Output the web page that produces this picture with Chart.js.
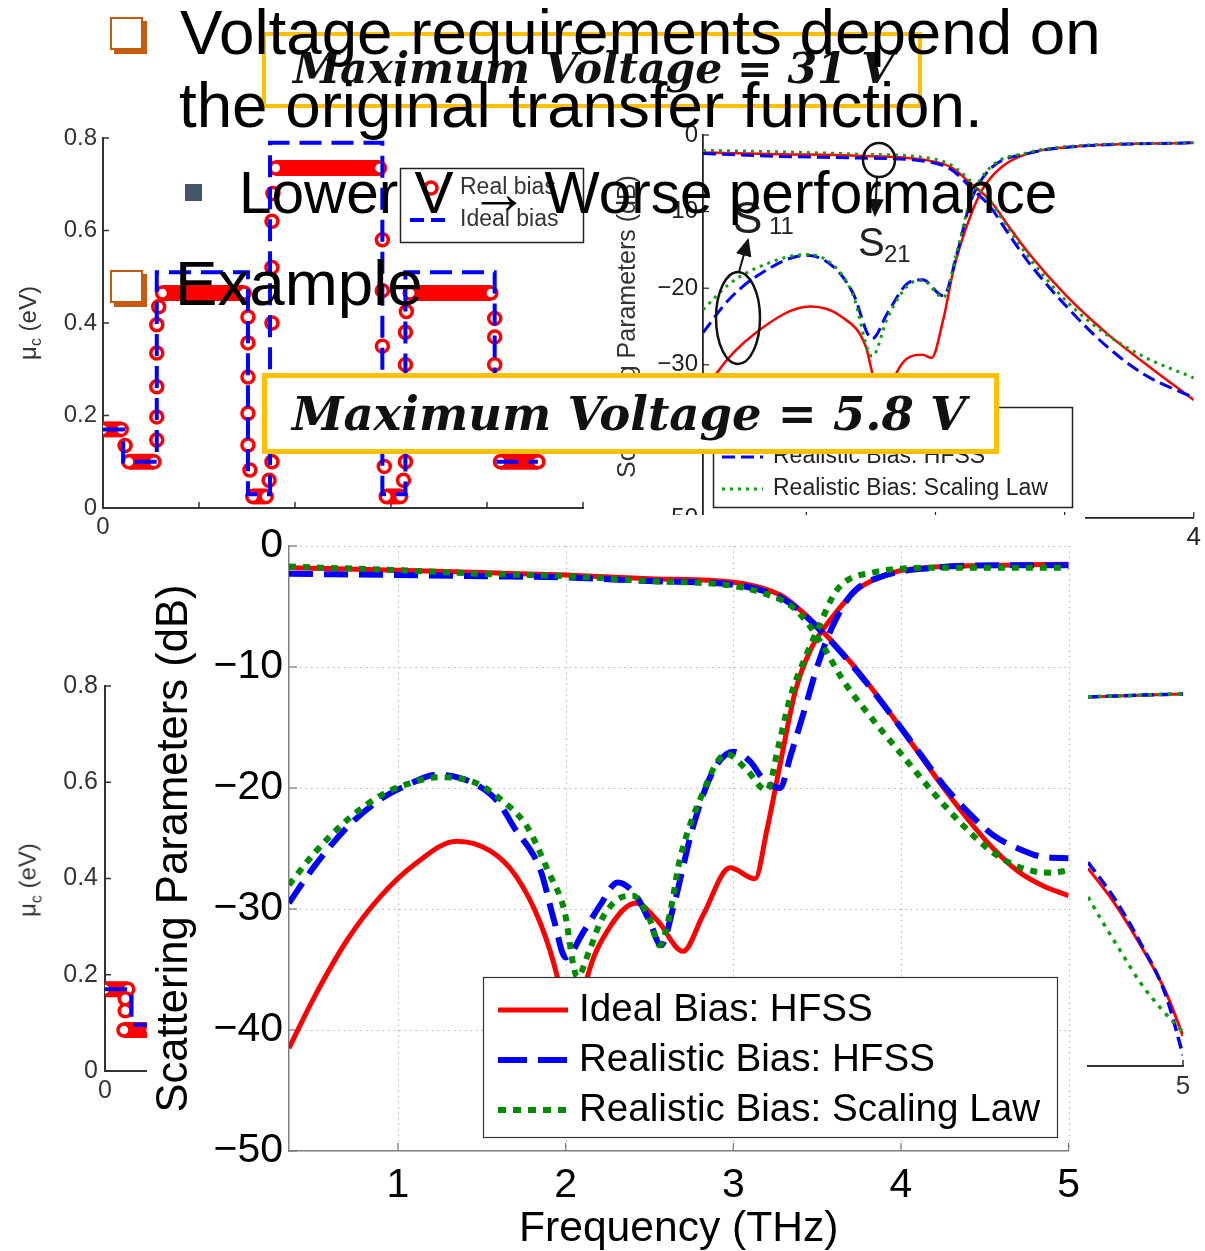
<!DOCTYPE html>
<html>
<head>
<meta charset="utf-8">
<script src="https://cdn.jsdelivr.net/npm/chart.js@4.4.1/dist/chart.umd.min.js"></script>
<style>
  body { margin: 0; width: 1205px; height: 1251px; background: #fff; position: relative; overflow: hidden; font-family: 'Liberation Sans', Arial, sans-serif; }
  canvas { position: absolute; }
  .txt { position: absolute; white-space: nowrap; line-height: 1; color: #000; z-index: 6; }
  .sq { position: absolute; width: 29px; height: 29px; border: 2px solid #c55a11; box-shadow: 4px 4px 0 #c55a11; background: #fff; z-index: 6; }
  .ybox { position: absolute; border: 4px solid #ffc000; background: #fff; box-sizing: border-box; z-index: 3; }
  .ytxt { position: absolute; white-space: nowrap; line-height: 1; z-index: 4; font-family: 'DejaVu Serif', serif; font-weight: bold; font-style: italic; color: #111; }
  .rot { position: absolute; white-space: nowrap; line-height: 1; transform: translate(-50%, -50%) rotate(-90deg); color: #333; z-index: 2; }
</style>
</head>
<body>

<canvas id="leftFrag" width="160" height="480" style="left:0;top:640px;z-index:1"></canvas>
<canvas id="rightFrag" width="120" height="510" style="left:1085px;top:600px;z-index:1"></canvas>
<canvas id="muChart" width="600" height="440" style="left:0;top:110px;z-index:1"></canvas>
<canvas id="origChart" width="615" height="445" style="left:590px;top:110px;z-index:1"></canvas>

<div class="rot" style="left:30px;top:323px;font-size:24px">μ<sub style="font-size:16px">c</sub> (eV)</div>
<div class="rot" style="left:30px;top:880px;font-size:24px">μ<sub style="font-size:16px">c</sub> (eV)</div>

<svg style="position:absolute;left:0;top:0;z-index:2" width="1205" height="560">
  <defs>
    <marker id="ah" markerWidth="10" markerHeight="10" refX="8" refY="5" orient="auto">
      <path d="M0,1 L9,5 L0,9 z" fill="#111"></path>
    </marker>
  </defs>
  <ellipse cx="738" cy="318" rx="22" ry="46" fill="none" stroke="#111" stroke-width="2.5"></ellipse>
  <line x1="739" y1="272" x2="748" y2="240" stroke="#111" stroke-width="2" marker-end="url(#ah)"></line>
  <ellipse cx="879" cy="160" rx="16" ry="17" fill="none" stroke="#111" stroke-width="2.5"></ellipse>
  <line x1="877" y1="177" x2="875" y2="215" stroke="#111" stroke-width="2" marker-end="url(#ah)"></line>
</svg>
<div class="txt" style="left:733px;top:196px;font-size:44px;color:#222;z-index:2">S</div>
<div class="txt" style="left:769px;top:214px;font-size:24px;color:#222;z-index:2">11</div>
<div class="txt" style="left:858px;top:222px;font-size:40px;color:#222;z-index:2">S</div>
<div class="txt" style="left:884px;top:242px;font-size:24px;color:#222;z-index:2">21</div>

<div class="ybox" style="left:262px;top:32px;width:660px;height:76px"></div>
<div class="ytxt" style="left:293px;top:47px;font-size:42.5px">Maximum Voltage = 31 V</div>
<div class="ybox" style="left:262px;top:373px;width:737px;height:81px;border-width:5px"></div>
<div class="ytxt" style="left:292px;top:391px;font-size:46.5px">Maximum Voltage = 5.8 V</div>

<canvas id="mainChart" width="943" height="740" style="left:147px;top:515px;z-index:5"></canvas>

<div class="sq" style="left:110px;top:17px"></div>
<div class="sq" style="left:110px;top:270px"></div>
<div style="position:absolute;left:185px;top:184px;width:17px;height:17px;background:#44546a;z-index:6"></div>
<div class="txt" style="left:180px;top:0;font-size:63.7px">Voltage requirements depend on</div>
<div class="txt" style="left:179px;top:73px;font-size:63.7px">the original transfer function.</div>
<div class="txt" style="left:239px;top:164px;font-size:58.5px">Lower V → Worse performance</div>
<div class="txt" style="left:175px;top:251px;font-size:63.7px">Example</div>

<script>
const FONT = "'Liberation Sans', Arial, sans-serif"
const RED = '#ff0000'
const BLUE = '#0000ff'
const GREEN = '#008c00'

// ---- main chart: scattering parameters vs frequency (THz) ----
const mainXTicks = [1, 2, 3, 4, 5]
const mainYTicks = [-50, -40, -30, -20, -10, 0]
const mainLegendLabels = ['Ideal Bias: HFSS', 'Realistic Bias: HFSS', 'Realistic Bias: Scaling Law']

const idealS21F = [0.35, 1.0, 1.5, 2.0, 2.5, 3.0, 3.2, 3.3, 3.4, 3.5, 3.65, 3.8, 3.95, 4.1, 4.25, 4.4, 4.55, 4.7, 4.85, 5.0]
const idealS21Db = [-1.8, -2.0, -2.2, -2.4, -2.7, -3.0, -3.6, -4.2, -5.3, -6.6, -8.8, -11.3, -14.1, -17.0, -19.9, -22.6, -25.0, -26.9, -28.1, -28.9]
const idealS11F = [0.35, 0.5, 0.7, 0.9, 1.1, 1.35, 1.55, 1.7, 1.85, 1.95, 2.04, 2.13, 2.25, 2.42, 2.55, 2.7, 2.82, 2.98, 3.13, 3.2, 3.28, 3.37, 3.46, 3.59, 3.74, 3.95, 4.25, 4.6, 5.0]
const idealS11Db = [-41.5, -37.3, -32.5, -28.9, -26.3, -24.4, -25.2, -27.2, -31.2, -35.6, -42.0, -35.6, -31.8, -29.5, -31.0, -33.5, -30.5, -26.6, -27.5, -23.5, -18.0, -12.0, -8.6, -5.9, -3.6, -2.2, -1.7, -1.6, -1.5]

const realS21F = [0.35, 1.0, 1.5, 2.0, 2.5, 3.0, 3.2, 3.3, 3.4, 3.5, 3.65, 3.8, 3.95, 4.1, 4.25, 4.4, 4.55, 4.7, 4.85, 5.0]
const realS21Db = [-2.3, -2.4, -2.5, -2.6, -2.9, -3.2, -3.8, -4.4, -5.4, -6.7, -8.9, -11.4, -14.1, -16.9, -19.7, -22.0, -23.9, -25.0, -25.7, -25.8]
const realS11F = [0.35, 0.5, 0.7, 0.9, 1.05, 1.23, 1.45, 1.6, 1.69, 1.85, 1.93, 2.0, 2.11, 2.21, 2.31, 2.42, 2.5, 2.57, 2.64, 2.76, 2.88, 3.0, 3.1, 3.18, 3.28, 3.34, 3.43, 3.5, 3.59, 3.71, 3.89, 4.2, 4.6, 5.0]
const realS11Db = [-29.5, -26.5, -23.2, -20.9, -19.8, -18.9, -19.6, -21.2, -23.2, -26.8, -30.9, -34.0, -31.8, -29.6, -27.8, -28.9, -31.0, -33.0, -30.0, -23.2, -18.6, -17.0, -17.8, -19.3, -20.0, -17.4, -13.3, -10.0, -6.7, -3.9, -2.5, -1.8, -1.6, -1.6]

const lawS21F = [0.35, 1.0, 1.5, 2.0, 2.5, 3.0, 3.2, 3.35, 3.45, 3.55, 3.65, 3.8, 3.9, 4.05, 4.2, 4.35, 4.5, 4.65, 4.8, 4.9, 5.0]
const lawS21Db = [-1.7, -2.0, -2.3, -2.5, -2.9, -3.3, -4.0, -5.0, -6.5, -8.6, -11.0, -13.8, -15.5, -18.0, -20.5, -22.8, -24.8, -26.2, -26.9, -27.0, -26.8]
const lawS11F = [0.35, 0.5, 0.7, 0.9, 1.05, 1.25, 1.45, 1.6, 1.77, 1.9, 1.99, 2.07, 2.14, 2.21, 2.3, 2.4, 2.5, 2.56, 2.62, 2.68, 2.8, 2.96, 3.08, 3.2, 3.27, 3.34, 3.42, 3.5, 3.62, 3.83, 4.2, 4.6, 5.0]
const lawS11Db = [-28.0, -25.4, -22.6, -20.6, -19.7, -19.1, -19.5, -20.8, -23.2, -27.0, -30.0, -35.6, -33.5, -31.0, -29.3, -28.9, -30.8, -33.0, -30.5, -26.0, -21.0, -17.2, -18.5, -20.2, -16.5, -12.5, -9.5, -7.0, -3.6, -2.2, -1.8, -1.8, -1.8]

// ---- top right chart: original transfer function ----
const origXTicks = [1, 2, 3, 4]
const origYTicks = [-50, -40, -30, -20, -10, 0]
const origS21F = [0.2, 0.8, 1.4, 1.9, 2.12, 2.27, 2.42, 2.57, 2.72, 3.02, 3.32, 3.62, 4.0]
const origIdealS21Db = [-2.3, -2.5, -2.7, -3.2, -4.2, -6.3, -8.5, -12.0, -15.4, -21.1, -25.8, -29.8, -34.6]
const origRealS21Db = [-2.4, -2.8, -3.0, -3.4, -4.5, -6.8, -9.3, -13.0, -16.6, -22.5, -27.5, -31.3, -34.3]
const origLawS21Db = [-2.0, -2.2, -2.5, -2.9, -3.9, -6.0, -8.6, -12.4, -15.9, -21.8, -26.0, -29.0, -31.7]
const origIdealS11F = [0.2, 0.31, 0.61, 1.03, 1.27, 1.46, 1.51, 1.6, 1.7, 1.81, 1.9, 1.97, 2.06, 2.14, 2.24, 2.36, 2.51, 2.72, 3.02, 4.0]
const origIdealS11Db = [-34.5, -31.0, -25.8, -22.4, -23.7, -27.6, -31.0, -36.0, -31.0, -28.9, -28.7, -29.1, -24.1, -17.6, -12.0, -7.2, -4.2, -2.4, -1.6, -1.0]
const origS11F = [0.2, 0.4, 0.61, 1.0, 1.21, 1.36, 1.51, 1.63, 1.79, 1.9, 2.06, 2.17, 2.27, 2.42, 2.72, 3.02, 4.0]
const origRealS11Db = [-25.8, -21.5, -18.5, -15.7, -17.2, -20.6, -26.6, -23.2, -19.3, -18.9, -21.0, -15.3, -8.8, -4.5, -2.4, -1.6, -1.0]
const origLawS11Db = [-22.8, -19.5, -17.4, -15.6, -17.0, -20.8, -28.9, -23.8, -19.6, -19.0, -21.2, -15.0, -8.5, -4.3, -2.3, -1.5, -1.0]

// ---- chemical potential charts ----
const muXTicks = [0, 1, 2, 3, 4, 5]
const muYTicks = [0, 0.2, 0.4, 0.6, 0.8]
const muLegendLabels = ['Real bias', 'Ideal bias']
const idealBiasX = [0, 0.21, 0.21, 0.56, 0.56, 1.51, 1.51, 1.74, 1.74, 2.91, 2.91, 3.15, 3.15, 4.08, 4.08, 4.53]
const idealBiasMu = [0.17, 0.17, 0.10, 0.10, 0.51, 0.51, 0.03, 0.03, 0.79, 0.79, 0.03, 0.03, 0.51, 0.51, 0.10, 0.10]
const realBiasX = [0, 0.19, 0.23, 0.27, 0.53, 0.56, 0.56, 0.56, 0.56, 0.56, 0.58, 0.62, 1.47, 1.51, 1.51, 1.51, 1.51, 1.51, 1.53, 1.56, 1.70, 1.73, 1.76, 1.76, 1.76, 1.76, 1.77, 1.80, 2.88, 2.91, 2.91, 2.91, 2.92, 2.93, 2.95, 3.10, 3.13, 3.15, 3.15, 3.15, 3.16, 3.20, 4.04, 4.08, 4.08, 4.08, 4.10, 4.14, 4.53]
const realBiasMu = [0.17, 0.17, 0.135, 0.10, 0.10, 0.147, 0.197, 0.262, 0.335, 0.396, 0.435, 0.465, 0.465, 0.413, 0.357, 0.283, 0.205, 0.136, 0.082, 0.025, 0.025, 0.06, 0.10, 0.40, 0.52, 0.62, 0.68, 0.735, 0.735, 0.58, 0.47, 0.35, 0.16, 0.09, 0.025, 0.025, 0.06, 0.10, 0.31, 0.38, 0.425, 0.465, 0.465, 0.41, 0.37, 0.31, 0.14, 0.10, 0.10]

const fragMuXTicks = [0]
const fragIdealX = [0, 0.21, 0.21, 0.36]
const fragIdealMu = [0.17, 0.17, 0.096, 0.096]
const fragRealX = [0, 0.18, 0.16, 0.16, 0.15, 0.36]
const fragRealMu = [0.17, 0.17, 0.15, 0.125, 0.085, 0.085]

// ---- right edge fragment of another S-parameter plot ----
const fragSXTicks = [5]
const fragTopF = [4.45, 4.7, 5.0]
const fragTopDb = [-2.2, -2.0, -1.8]
const fragDropF = [4.45, 4.6, 4.75, 4.9, 5.0]
const fragIdealDropDb = [-24.4, -28.8, -34.2, -40.4, -46.1]
const fragRealDropDb = [-23.6, -28.2, -33.9, -40.8, -48.6]
const fragLawDropF = [4.45, 4.52, 4.635, 4.75, 4.87, 5.0]
const fragLawDropDb = [-28.1, -30.8, -35.0, -39.1, -42.5, -45.6]

const pts = (xs, ys) => xs.map((x, i) => ({ x, y: ys[i] }))
const curve = (xs, ys, style) => Object.assign({
  data: pts(xs, ys),
  pointRadius: 0,
  fill: false,
  cubicInterpolationMode: 'monotone',
  borderCapStyle: 'butt'
}, style)
const minus = v => v < 0 ? '\u2212' + Math.abs(v) : String(v)
const oneDec = v => v === 0 ? '0' : v.toFixed(1)

// inner ticks, dotted grid, white background and a boxed legend
const matlabAxes = {
  id: 'matlabAxes',
  beforeDraw (chart, args, o) {
    if (!o.background) return
    const { ctx } = chart
    ctx.save()
    ctx.fillStyle = o.background
    ctx.fillRect(0, 0, o.bgWidth || chart.width, chart.height)
    ctx.restore()
  },
  beforeDatasetsDraw (chart, args, o) {
    if (!o.tickLen) return
    const { ctx, chartArea: a, scales: { x, y } } = chart
    const seg = (x0, y0, x1, y1) => { ctx.beginPath(); ctx.moveTo(x0, y0); ctx.lineTo(x1, y1); ctx.stroke() }
    ctx.save()
    if (o.grid) {
      ctx.strokeStyle = o.grid
      ctx.lineWidth = 1
      ctx.setLineDash([1.5, 4])
      x.ticks.forEach(t => { const p = Math.round(x.getPixelForValue(t.value)) + 0.5; seg(p, a.top, p, a.bottom) })
      y.ticks.forEach(t => { const p = Math.round(y.getPixelForValue(t.value)) + 0.5; seg(a.left, p, a.right, p) })
      ctx.setLineDash([])
    }
    ctx.strokeStyle = o.tickColor
    ctx.lineWidth = o.tickWidth
    x.ticks.forEach(t => { const p = x.getPixelForValue(t.value); seg(p, a.bottom, p, a.bottom - o.tickLen) })
    if (y.options.display) {
      y.ticks.forEach(t => { const p = y.getPixelForValue(t.value); seg(a.left, p, a.left + o.tickLen, p) })
    }
    ctx.restore()
  },
  afterDraw (chart, args, o) {
    const lg = o.legend
    if (!lg) return
    const { ctx } = chart
    ctx.save()
    ctx.fillStyle = '#fff'
    ctx.fillRect(lg.box[0], lg.box[1], lg.box[2], lg.box[3])
    ctx.strokeStyle = lg.border
    ctx.lineWidth = lg.borderWidth
    ctx.strokeRect(lg.box[0] + 0.5, lg.box[1] + 0.5, lg.box[2], lg.box[3])
    ctx.font = lg.font
    ctx.textBaseline = 'middle'
    lg.labels.forEach((label, i) => {
      const ds = chart.data.datasets[lg.datasets[i]]
      const yy = lg.rows[i]
      ctx.strokeStyle = ds.pointBorderColor || ds.borderColor
      if (lg.markers && lg.markers[i]) {
        ctx.lineWidth = ds.pointBorderWidth
        ctx.fillStyle = ds.pointBackgroundColor
        ctx.beginPath()
        ctx.arc(lg.markers[i], yy, ds.pointRadius, 0, Math.PI * 2)
        ctx.fill()
        ctx.stroke()
      } else {
        ctx.lineWidth = ds.borderWidth
        ctx.lineCap = 'butt'
        ctx.setLineDash(lg.dash[i])
        ctx.beginPath()
        ctx.moveTo(lg.sample[0], yy)
        ctx.lineTo(lg.sample[1], yy)
        ctx.stroke()
        ctx.setLineDash([])
      }
      ctx.fillStyle = lg.color
      ctx.fillText(label, lg.textX, yy)
    })
    ctx.restore()
  }
}
Chart.register(matlabAxes)
Chart.defaults.font.family = FONT

const axis = (min, max, tickValues, fit, o) => ({
  type: 'linear',
  min,
  max,
  display: o.display !== false,
  afterBuildTicks: s => { s.ticks = tickValues.map(v => ({ value: v })) },
  afterFit: s => { if (s.isHorizontal()) s.height = fit; else s.width = fit },
  grid: { display: false, drawTicks: false },
  border: { color: o.axisColor, width: o.axisWidth },
  ticks: { font: { size: o.size }, color: o.color, padding: o.pad, autoSkip: false, maxRotation: 0, callback: o.fmt },
  title: o.title || { display: false }
})

const base = {
  responsive: false,
  animation: false,
  devicePixelRatio: 1,
  events: []
}

// main chart
new Chart(document.getElementById('mainChart'), {
  type: 'line',
  data: {
    datasets: [
      curve(idealS21F, idealS21Db, { borderColor: RED, borderWidth: 5, order: 3 }),
      curve(realS21F, realS21Db, { borderColor: BLUE, borderWidth: 6, borderDash: [24, 11], order: 2 }),
      curve(lawS21F, lawS21Db, { borderColor: GREEN, borderWidth: 6, borderDash: [7, 7], order: 1 }),
      curve(idealS11F, idealS11Db, { borderColor: RED, borderWidth: 5, order: 3 }),
      curve(realS11F, realS11Db, { borderColor: BLUE, borderWidth: 6, borderDash: [24, 11], order: 2 }),
      curve(lawS11F, lawS11Db, { borderColor: GREEN, borderWidth: 6, borderDash: [7, 7], order: 1 })
    ]
  },
  options: Object.assign({}, base, {
    layout: { padding: { top: 31, right: 17, left: 0, bottom: 0 } },
    plugins: {
      legend: { display: false },
      tooltip: { enabled: false },
      matlabAxes: {
        background: '#fff',
        bgWidth: 938,
        grid: '#b4b4b4',
        tickLen: 8,
        tickColor: '#777',
        tickWidth: 1.2,
        legend: {
          box: [336, 462, 574, 160],
          rows: [495, 545, 595],
          sample: [351, 421],
          textX: 432,
          font: '38.6px ' + FONT,
          color: '#000',
          border: '#333',
          borderWidth: 1.2,
          labels: mainLegendLabels,
          datasets: [0, 1, 2],
          dash: [[], [29, 11], [8, 7]]
        }
      }
    },
    scales: {
      x: axis(0.35, 5, mainXTicks, 104, {
        axisColor: '#808080', axisWidth: 1.5, size: 41, color: '#000', pad: 10,
        title: { display: true, text: 'Frequency (THz)', color: '#000', font: { size: 42.6 }, padding: { top: 0, bottom: 0 } }
      }),
      y: axis(-50, 0, mainYTicks, 142, {
        axisColor: '#808080', axisWidth: 1.5, size: 41, color: '#000', pad: 6, fmt: minus,
        title: { display: true, text: 'Scattering Parameters (dB)', color: '#000', font: { size: 43.6 }, padding: { top: 2, bottom: 0 } }
      })
    }
  })
})

// top right chart
new Chart(document.getElementById('origChart'), {
  type: 'line',
  data: {
    datasets: [
      curve(origS21F, origIdealS21Db, { borderColor: RED, borderWidth: 2.5, order: 3 }),
      curve(origS21F, origRealS21Db, { borderColor: BLUE, borderWidth: 3, borderDash: [13, 6], order: 2 }),
      curve(origS21F, origLawS21Db, { borderColor: '#10a010', borderWidth: 3, borderDash: [3, 5], order: 1 }),
      curve(origIdealS11F, origIdealS11Db, { borderColor: RED, borderWidth: 2.5, order: 3 }),
      curve(origS11F, origRealS11Db, { borderColor: BLUE, borderWidth: 3, borderDash: [13, 6], order: 2 }),
      curve(origS11F, origLawS11Db, { borderColor: '#10a010', borderWidth: 3, borderDash: [3, 5], order: 1 })
    ]
  },
  options: Object.assign({}, base, {
    layout: { padding: { top: 25, right: 9, left: 0, bottom: 0 } },
    plugins: {
      legend: { display: false },
      tooltip: { enabled: false },
      matlabAxes: {
        tickLen: 6,
        tickColor: '#222',
        tickWidth: 1.2,
        legend: {
          box: [123, 297, 359, 100],
          rows: [315, 347, 379],
          sample: [132, 173],
          textX: 183,
          font: '23px ' + FONT,
          color: '#222',
          border: '#222',
          borderWidth: 1.5,
          labels: mainLegendLabels,
          datasets: [0, 1, 2],
          dash: [[], [13, 6], [3, 5]]
        }
      }
    },
    scales: {
      x: axis(0.2, 4, origXTicks, 37, { axisColor: '#222', axisWidth: 1.8, size: 26, color: '#222', pad: 4 }),
      y: axis(-50, 0, origYTicks, 113, {
        axisColor: '#222', axisWidth: 1.8, size: 24, color: '#222', pad: 5, fmt: minus,
        title: { display: true, text: 'Scattering Parameters (dB)', color: '#333', font: { size: 25 }, padding: { top: 23, bottom: 0 } }
      })
    }
  })
})

// top left chart: chemical potential
const muDatasets = (ix, iy, rx, ry) => [
  { data: pts(ix, iy), borderColor: BLUE, borderWidth: 4, borderDash: [22, 10], pointRadius: 0, fill: false, order: 0 },
  {
    data: pts(rx, ry),
    borderColor: RED,
    borderWidth: 16,
    pointRadius: 6,
    pointBorderWidth: 3.5,
    pointBorderColor: RED,
    pointBackgroundColor: '#fff',
    fill: false,
    order: 1,
    segment: { borderColor: c => c.p0.parsed.y === c.p1.parsed.y ? RED : 'rgba(0,0,0,0)' }
  }
]

new Chart(document.getElementById('muChart'), {
  type: 'line',
  data: { datasets: muDatasets(idealBiasX, idealBiasMu, realBiasX, realBiasMu) },
  options: Object.assign({}, base, {
    layout: { padding: { top: 28, right: 17, left: 0, bottom: 0 } },
    plugins: {
      legend: { display: false },
      tooltip: { enabled: false },
      matlabAxes: {
        tickLen: 6,
        tickColor: '#333',
        tickWidth: 1.5,
        legend: {
          box: [400, 58, 183, 74],
          rows: [78, 110],
          sample: [410, 452],
          markers: [431, 0],
          textX: 460,
          font: '23px ' + FONT,
          color: '#333',
          border: '#222',
          borderWidth: 1.5,
          labels: muLegendLabels,
          datasets: [1, 0],
          dash: [[], [14, 7]]
        }
      }
    },
    scales: {
      x: axis(0, 5, muXTicks, 42, { axisColor: '#333', axisWidth: 2, size: 24, color: '#333', pad: 5 }),
      y: axis(0, 0.8, muYTicks, 103, { axisColor: '#333', axisWidth: 2, size: 24, color: '#333', pad: 6, fmt: oneDec })
    }
  })
})

// left fragment: another chemical potential plot, mostly hidden
new Chart(document.getElementById('leftFrag'), {
  type: 'line',
  data: { datasets: muDatasets(fragIdealX, fragIdealMu, fragRealX, fragRealMu) },
  options: Object.assign({}, base, {
    layout: { padding: { top: 46, right: 0, left: 0, bottom: 0 } },
    plugins: {
      legend: { display: false },
      tooltip: { enabled: false },
      matlabAxes: { tickLen: 6, tickColor: '#333', tickWidth: 1.5 }
    },
    scales: {
      x: axis(0, 0.36, fragMuXTicks, 49, { axisColor: '#333', axisWidth: 2, size: 25, color: '#333', pad: 5 }),
      y: axis(0, 0.8, muYTicks, 105, { axisColor: '#333', axisWidth: 2, size: 25, color: '#333', pad: 7, fmt: oneDec })
    }
  })
})

// right fragment: another S-parameter plot, mostly hidden
new Chart(document.getElementById('rightFrag'), {
  type: 'line',
  data: {
    datasets: [
      curve(fragTopF, fragTopDb, { borderColor: RED, borderWidth: 3, order: 3 }),
      curve(fragTopF, fragTopDb, { borderColor: BLUE, borderWidth: 3.5, borderDash: [12, 6], order: 2 }),
      curve(fragTopF, fragTopDb, { borderColor: '#10a010', borderWidth: 3.5, borderDash: [4, 6], order: 1 }),
      curve(fragDropF, fragIdealDropDb, { borderColor: RED, borderWidth: 3, order: 3 }),
      curve(fragDropF, fragRealDropDb, { borderColor: BLUE, borderWidth: 3.5, borderDash: [12, 6], order: 2 }),
      curve(fragLawDropF, fragLawDropDb, { borderColor: '#10a010', borderWidth: 3.5, borderDash: [4, 6], order: 1 })
    ]
  },
  options: Object.assign({}, base, {
    layout: { padding: { top: 80, right: 22, left: 3, bottom: 0 } },
    plugins: {
      legend: { display: false },
      tooltip: { enabled: false },
      matlabAxes: { tickLen: 6, tickColor: '#333', tickWidth: 1.5 }
    },
    scales: {
      x: axis(4.45, 5, fragSXTicks, 44, { axisColor: '#333', axisWidth: 2, size: 26, color: '#333', pad: 5 }),
      y: axis(-50, 0, [-50, 0], 0, { display: false, axisColor: '#333', axisWidth: 0, size: 10, color: '#333', pad: 0 })
    }
  })
})
</script>
</body>
</html>
